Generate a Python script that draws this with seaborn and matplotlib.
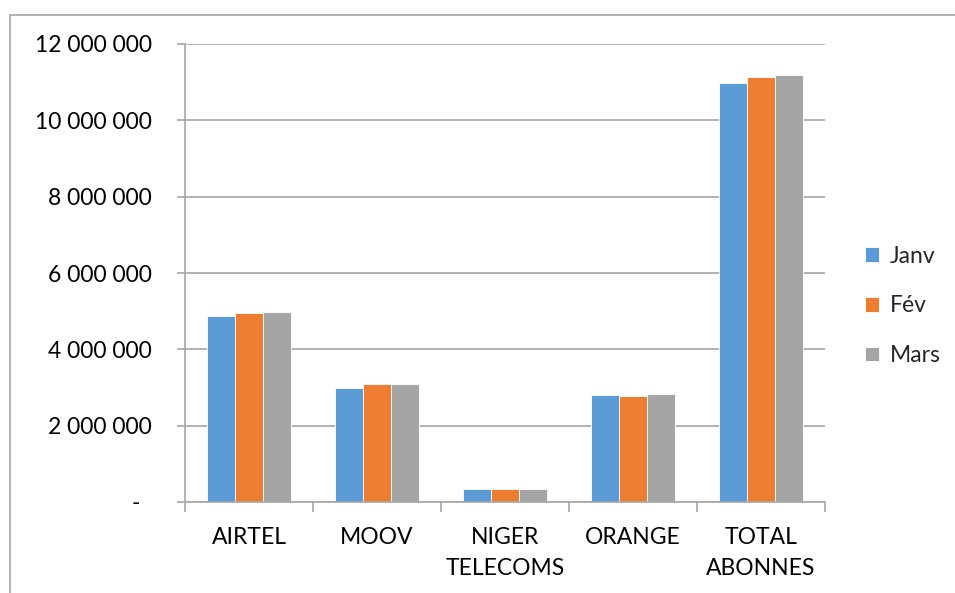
import matplotlib
matplotlib.use("Agg")
import matplotlib.pyplot as plt
import matplotlib.ticker as mticker
from matplotlib.lines import Line2D
import pandas as pd
import seaborn as sns

# data
OPERATORS = ["AIRTEL", "MOOV", "NIGER\nTELECOMS", "ORANGE", "TOTAL\nABONNES"]
MONTHS = ["Janv", "Fév", "Mars"]
JANV = [4_870_000, 3_000_000, 340_000, 2_800_000, 10_970_000]
FEV = [4_940_000, 3_090_000, 340_000, 2_790_000, 11_130_000]
MARS = [4_970_000, 3_090_000, 330_000, 2_840_000, 11_200_000]
YTICKS = [0, 2_000_000, 4_000_000, 6_000_000, 8_000_000, 10_000_000, 12_000_000]

BLUE = "#5B9BD5"
ORANGE = "#ED7D31"
GREY = "#A5A5A5"
LINE = "#A6A6A6"

rows = []
for month, vals in zip(MONTHS, [JANV, FEV, MARS]):
    for op, v in zip(OPERATORS, vals):
        rows.append({"op": op, "month": month, "value": v})
df = pd.DataFrame(rows)

sns.set_theme(style="white")
plt.rcParams["font.family"] = ["Lato", "DejaVu Sans"]

fig = plt.figure(figsize=(9.55, 5.93), dpi=100)
ax = fig.add_axes([185 / 955, 1 - 502 / 593, 640 / 955, 458 / 593])

sns.barplot(
    data=df, x="op", y="value", hue="month", order=OPERATORS, hue_order=MONTHS,
    palette=[BLUE, ORANGE, GREY], width=0.66, gap=0, edgecolor="white",
    linewidth=0.6, saturation=1, errorbar=None, ax=ax,
)

ax.set_ylim(0, 12_000_000)
ax.set_xlim(-0.5, len(OPERATORS) - 0.5)
ax.set_yticks(YTICKS)
ax.yaxis.set_major_formatter(
    mticker.FuncFormatter(lambda v, _: "-  " if v == 0 else f"{int(v):,}".replace(",", " "))
)
ax.grid(axis="y", color=LINE, linewidth=1.2)
ax.set_axisbelow(True)
ax.tick_params(axis="y", length=6, color=LINE, width=1.2, pad=18, labelsize=16.5, left=True)
ax.tick_params(axis="x", which="major", length=0, pad=18, labelsize=16.5)
ax.set_xticks([i + 0.5 for i in range(-1, len(OPERATORS))], minor=True)
ax.tick_params(axis="x", which="minor", length=7, color=LINE, width=1.2, bottom=True)
for lbl in ax.get_yticklabels() + ax.get_xticklabels():
    lbl.set_color("black")
for lbl in ax.get_xticklabels():
    lbl.set_linespacing(1.6)
ax.set_xlabel("")
ax.set_ylabel("")
for s in ["top", "right"]:
    ax.spines[s].set_visible(False)
for s in ["left", "bottom"]:
    ax.spines[s].set_color(LINE)
    ax.spines[s].set_linewidth(1.2)

ax.legend(
    title=None, frameon=False, loc="center left", bbox_to_anchor=(1.063, 0.428),
    fontsize=16.5, handlelength=0.6, handleheight=0.6, handletextpad=0.45,
    labelspacing=1.25, borderaxespad=0, borderpad=0,
)

# outer chart frame
fig.add_artist(Line2D([10 / 955, 10 / 955], [0, 1 - 15 / 593], transform=fig.transFigure, color=LINE, lw=1.2))
fig.add_artist(Line2D([10 / 955, 1], [1 - 15 / 593, 1 - 15 / 593], transform=fig.transFigure, color=LINE, lw=1.2))

fig.savefig("out.png", dpi=100, facecolor="white")
